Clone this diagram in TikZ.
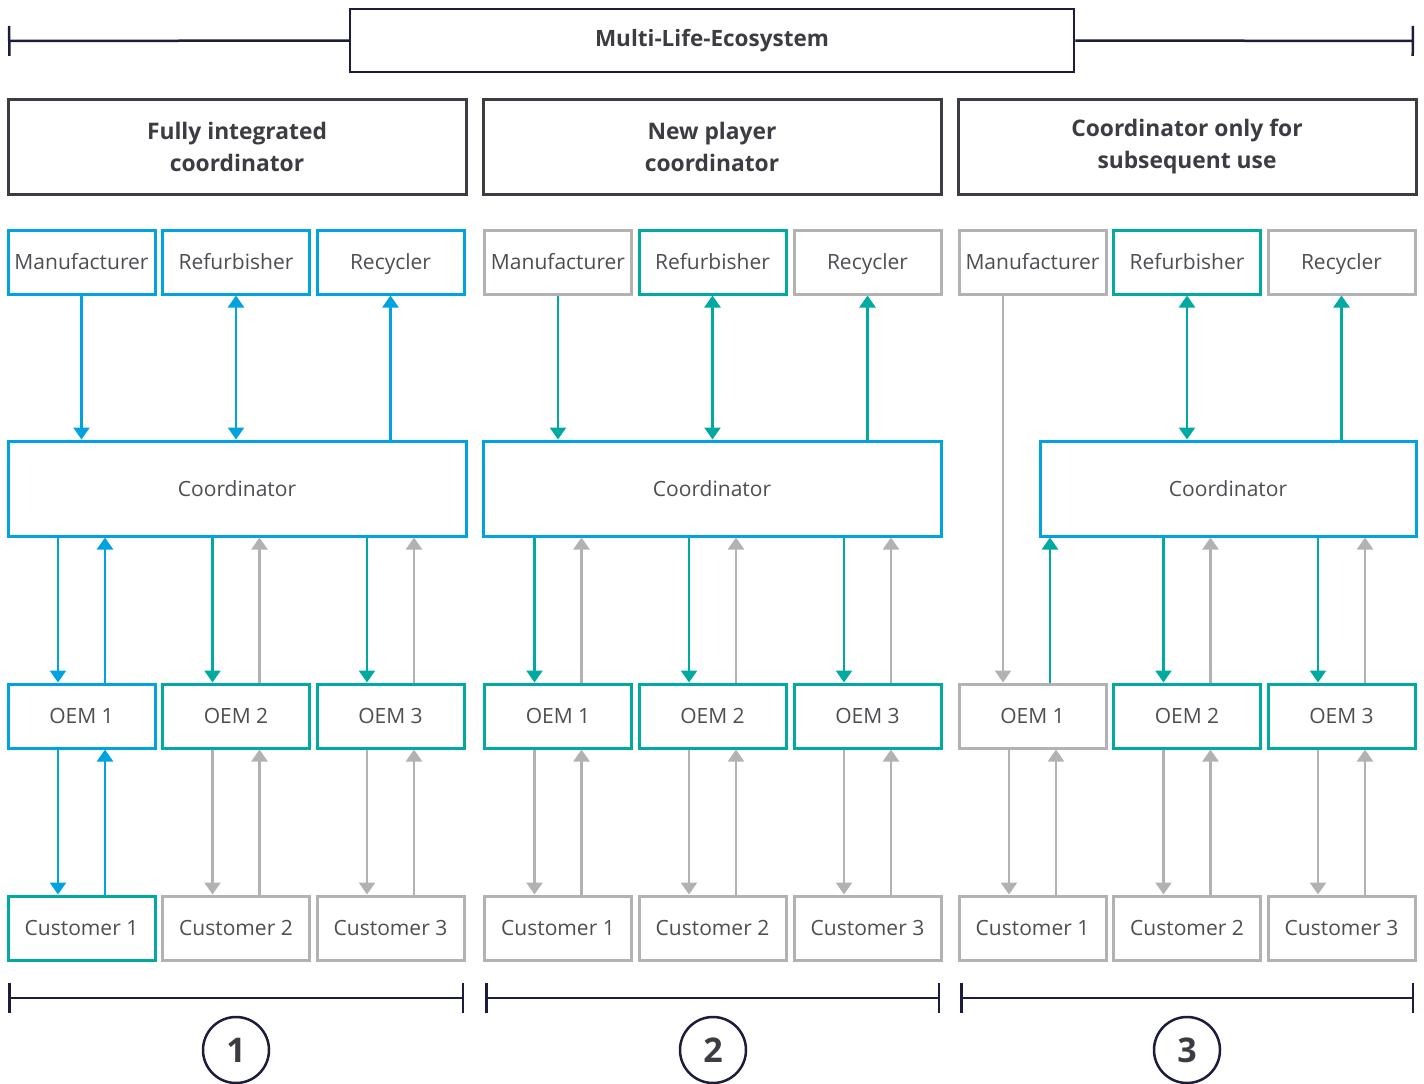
\documentclass[tikz,border=0pt]{standalone}
\usepackage{fontspec}
\setmainfont{Open Sans}
\usetikzlibrary{arrows.meta,calc}

\definecolor{cblue}{RGB}{0,163,224}
\definecolor{cteal}{RGB}{0,170,160}
\definecolor{cgray}{RGB}{178,178,178}
\definecolor{cnavy}{RGB}{28,28,60}
\definecolor{chead}{RGB}{60,60,66}
\definecolor{ctext}{RGB}{77,77,82}

% down arrow left, up arrow right between two stacked nodes
\newcommand{\pairlink}[4]{%
  \draw[arr,#3] ([xshift=-23.5]#2.north |- #1.south) -- ([xshift=-23.5]#2.north);
  \draw[arr,#4] ([xshift=23.5]#2.north) -- ([xshift=23.5]#2.north |- #1.south);}

\begin{document}
\begin{tikzpicture}[x=1pt,y=-1pt,
    box/.style={draw, line width=3pt, minimum width=147pt, minimum height=64pt,
      inner sep=0pt, text height=17.5pt, text depth=2.5pt, text=ctext,
      font=\fontsize{21}{25}\selectfont},
    coord/.style={box, draw=cblue, minimum height=95pt},
    headbox/.style={draw=chead, line width=3pt, minimum width=458pt, minimum height=95pt,
      align=center, text=chead, font=\fontsize{22.8}{32}\selectfont\bfseries},
    arr/.style={line width=2.5pt, -{Triangle[width=16pt,length=12pt]}},
    arrb/.style={line width=2.5pt, {Triangle[width=16pt,length=12pt]}-{Triangle[width=16pt,length=12pt]}},
    bracket/.style={draw=cnavy, line width=2.5pt},
    num/.style={circle, draw=cnavy, line width=2.5pt, minimum size=66pt, inner sep=0pt,
      text=chead, font=\fontsize{34}{34}\selectfont\bfseries}]
\useasboundingbox (0,0) rectangle (1424,1084);

% ecosystem bar
\node[draw=cnavy, line width=2.5pt, minimum width=724pt, minimum height=63pt, text=chead,
  font=\fontsize{22.5}{26}\selectfont\bfseries] (eco) at (712,40.5) {Multi-Life-Ecosystem};
\coordinate (ecoL) at (8,41);
\coordinate (ecoR) at (1414,41);
\draw[bracket, {Bar[width=30pt]}-] (ecoL) -- (eco.west);
\draw[bracket, -{Bar[width=30pt]}] (eco.east) -- (ecoR);

% headings
\node[headbox] (headA) at (237,147) {Fully integrated\\coordinator};
\node[headbox] (headB) at (712,147) {New player\\coordinator};
\node[headbox] (headC) at (1187,147) {Coordinator only for\\subsequent use};

% column 1
\node[box, draw=cblue] (manA) at (81.5,262) {Manufacturer};
\node[box, draw=cblue] (refA) at (236,262) {Refurbisher};
\node[box, draw=cblue] (recA) at (390.5,262) {Recycler};
\node[coord, minimum width=458pt] (coA) at (237,488.5) {Coordinator};
\node[box, draw=cblue] (oemA1) at (81.5,716) {OEM 1};
\node[box, draw=cteal] (oemA2) at (236,716) {OEM 2};
\node[box, draw=cteal] (oemA3) at (390.5,716) {OEM 3};
\node[box, draw=cteal] (cusA1) at (81.5,928) {Customer 1};
\node[box, draw=cgray] (cusA2) at (236,928) {Customer 2};
\node[box, draw=cgray] (cusA3) at (390.5,928) {Customer 3};

\draw[arr, cblue] (manA.south) -- (manA.south |- coA.north);
\draw[arrb, cblue] (refA.south) -- (refA.south |- coA.north);
\draw[arr, cblue] (recA.south |- coA.north) -- (recA.south);
\pairlink{coA}{oemA1}{cblue}{cblue}
\pairlink{coA}{oemA2}{cteal}{cgray}
\pairlink{coA}{oemA3}{cteal}{cgray}
\pairlink{oemA1}{cusA1}{cblue}{cblue}
\pairlink{oemA2}{cusA2}{cgray}{cgray}
\pairlink{oemA3}{cusA3}{cgray}{cgray}

% column 2
\node[box, draw=cgray] (manB) at (558,262) {Manufacturer};
\node[box, draw=cteal] (refB) at (712.5,262) {Refurbisher};
\node[box, draw=cgray] (recB) at (867.5,262) {Recycler};
\node[coord, minimum width=458pt] (coB) at (712,488.5) {Coordinator};
\node[box, draw=cteal] (oemB1) at (558,716) {OEM 1};
\node[box, draw=cteal] (oemB2) at (712.5,716) {OEM 2};
\node[box, draw=cteal] (oemB3) at (867.5,716) {OEM 3};
\node[box, draw=cgray] (cusB1) at (558,928) {Customer 1};
\node[box, draw=cgray] (cusB2) at (712.5,928) {Customer 2};
\node[box, draw=cgray] (cusB3) at (867.5,928) {Customer 3};

\draw[arr, cteal] (manB.south) -- (manB.south |- coB.north);
\draw[arrb, cteal] (refB.south) -- (refB.south |- coB.north);
\draw[arr, cteal] (recB.south |- coB.north) -- (recB.south);
\foreach \i in {1,2,3} {
  \pairlink{coB}{oemB\i}{cteal}{cgray}
  \pairlink{oemB\i}{cusB\i}{cgray}{cgray}
}

% column 3
\node[box, draw=cgray] (manC) at (1032.5,262) {Manufacturer};
\node[box, draw=cteal] (refC) at (1187,262) {Refurbisher};
\node[box, draw=cgray] (recC) at (1341.5,262) {Recycler};
\node[coord, minimum width=376pt] (coC) at (1228,488.5) {Coordinator};
\node[box, draw=cgray] (oemC1) at (1032.5,716) {OEM 1};
\node[box, draw=cteal] (oemC2) at (1187,716) {OEM 2};
\node[box, draw=cteal] (oemC3) at (1341.5,716) {OEM 3};
\node[box, draw=cgray] (cusC1) at (1032.5,928) {Customer 1};
\node[box, draw=cgray] (cusC2) at (1187,928) {Customer 2};
\node[box, draw=cgray] (cusC3) at (1341.5,928) {Customer 3};

\draw[arr, cgray] ([xshift=-29.5]manC.south) -- ([xshift=-29.5]oemC1.north);
\draw[arrb, cteal] (refC.south) -- (refC.south |- coC.north);
\draw[arr, cteal] (recC.south |- coC.north) -- (recC.south);
\draw[arr, cteal] ([xshift=17.5]oemC1.north) -- ([xshift=17.5]oemC1.north |- coC.south);
\pairlink{coC}{oemC2}{cteal}{cgray}
\pairlink{coC}{oemC3}{cteal}{cgray}
\foreach \i in {1,2,3} {
  \pairlink{oemC\i}{cusC\i}{cgray}{cgray}
}

% brackets and numbers
\coordinate (brA1) at (8,998);   \coordinate (brA2) at (464,998);
\coordinate (brB1) at (485,998); \coordinate (brB2) at (940,998);
\coordinate (brC1) at (960,998); \coordinate (brC2) at (1414,998);
\draw[bracket, {Bar[width=30pt]}-{Bar[width=30pt]}] (brA1) -- (brA2);
\draw[bracket, {Bar[width=30pt]}-{Bar[width=30pt]}] (brB1) -- (brB2);
\draw[bracket, {Bar[width=30pt]}-{Bar[width=30pt]}] (brC1) -- (brC2);
\node[num] (numA) at (236,1050) {1};
\node[num] (numB) at (713,1050) {2};
\node[num] (numC) at (1187,1050) {3};
\end{tikzpicture}
\end{document}
